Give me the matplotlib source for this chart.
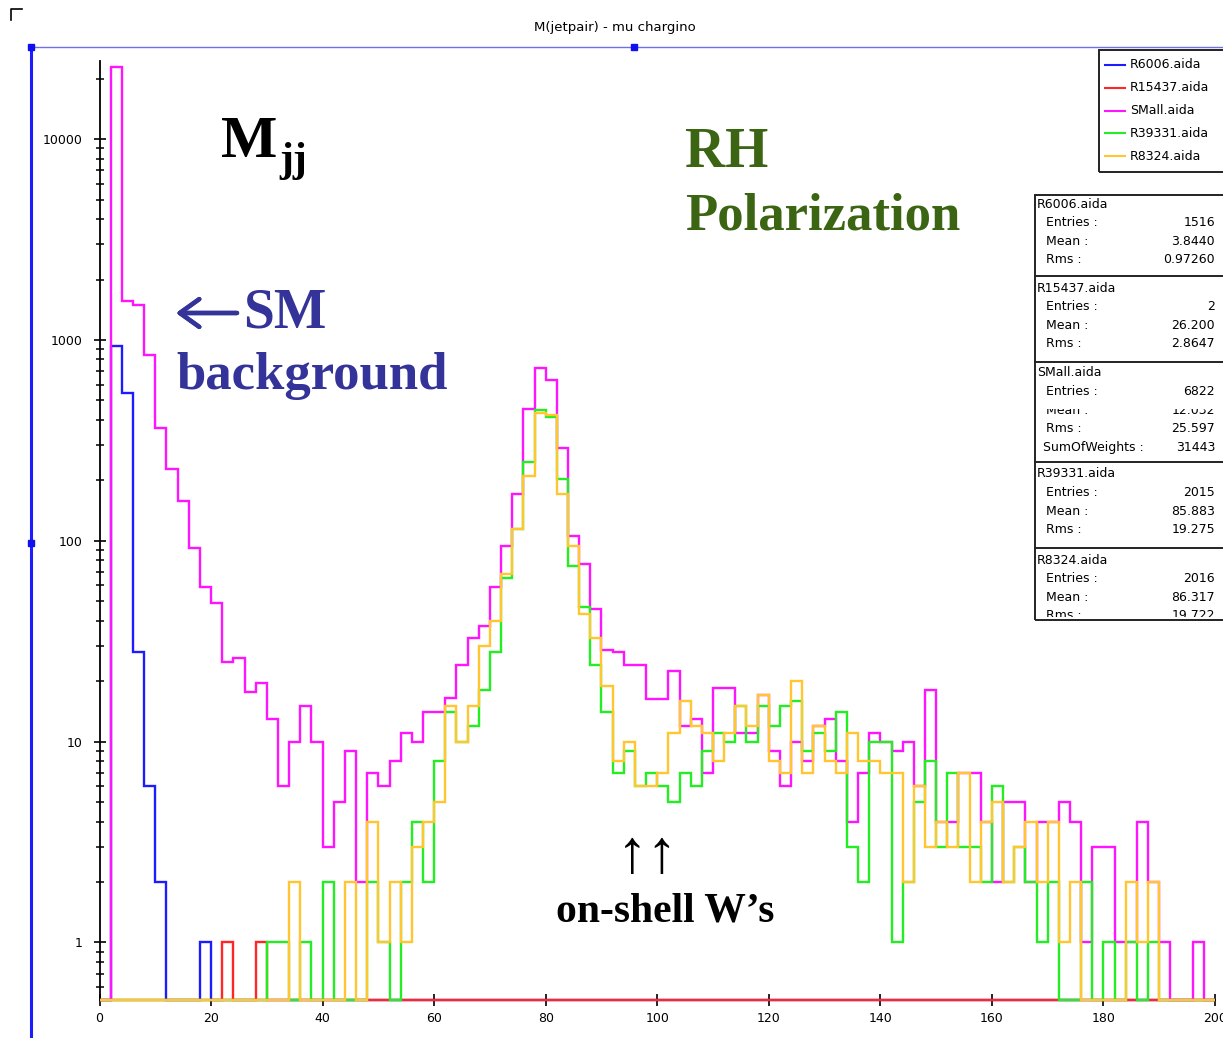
import numpy as np
import matplotlib.pyplot as plt
from matplotlib.lines import Line2D
from matplotlib.patches import Rectangle
from matplotlib.ticker import FixedLocator, LogLocator, NullFormatter, FuncFormatter
from matplotlib.transforms import Bbox

W, H = 1223, 1038


def fx(x):
    return x / W


def fy(y):
    return 1 - y / H


# 2 GeV bins from 0 to 200
edges = np.arange(0, 202, 2)

r6006 = [0, 935, 545, 28, 6, 2, 0, 0, 0, 1,
         0, 0, 0, 0, 0, 0, 0, 0, 0, 0,
         0, 0, 0, 0, 0, 0, 0, 0, 0, 0,
         0, 0, 0, 0, 0, 0, 0, 0, 0, 0,
         0, 0, 0, 0, 0, 0, 0, 0, 0, 0,
         0, 0, 0, 0, 0, 0, 0, 0, 0, 0,
         0, 0, 0, 0, 0, 0, 0, 0, 0, 0,
         0, 0, 0, 0, 0, 0, 0, 0, 0, 0,
         0, 0, 0, 0, 0, 0, 0, 0, 0, 0,
         0, 0, 0, 0, 0, 0, 0, 0, 0, 0]

r15437 = [0, 0, 0, 0, 0, 0, 0, 0, 0, 0,
          0, 1, 0, 0, 1, 0, 0, 0, 0, 0,
          0, 0, 0, 0, 0, 0, 0, 0, 0, 0,
          0, 0, 0, 0, 0, 0, 0, 0, 0, 0,
          0, 0, 0, 0, 0, 0, 0, 0, 0, 0,
          0, 0, 0, 0, 0, 0, 0, 0, 0, 0,
          0, 0, 0, 0, 0, 0, 0, 0, 0, 0,
          0, 0, 0, 0, 0, 0, 0, 0, 0, 0,
          0, 0, 0, 0, 0, 0, 0, 0, 0, 0,
          0, 0, 0, 0, 0, 0, 0, 0, 0, 0]

small = [0, 23000, 1560, 1500, 845, 364, 228, 158, 92, 59,
         49, 25, 26, 17.6, 19.6, 13, 6, 10, 15, 10,
         3, 5, 9, 2, 7, 6, 8, 11, 10, 14,
         14, 16.5, 24, 33, 37.6, 59, 94, 172, 455, 729,
         630, 290, 106, 77, 46, 28.7, 28, 24, 24, 16.3,
         16.3, 22.5, 12, 13, 7, 18.4, 18.4, 11, 11, 17,
         9, 6, 10, 8, 12, 13, 8, 4, 7, 11,
         10, 9, 10, 6, 18, 4, 4, 7, 7, 4,
         2, 5, 5, 2, 4, 4, 5, 4, 1, 3,
         3, 1, 1, 4, 2, 1, 0, 0, 1, 0]

r39331 = [0, 0, 0, 0, 0, 0, 0, 0, 0, 0,
          0, 0, 0, 0, 0, 1, 1, 0, 1, 0,
          2, 0, 0, 0, 2, 1, 0, 2, 4, 2,
          8, 14, 10, 12, 18, 28, 65, 115, 248, 448,
          415, 202, 75, 47, 24, 14, 7, 9, 6, 7,
          6, 5, 7, 6, 9, 11, 10, 15, 10, 15,
          12, 15, 16, 9, 11, 9, 14, 3, 2, 10,
          10, 1, 2, 5, 8, 3, 7, 3, 3, 2,
          6, 2, 3, 2, 1, 2, 0, 0, 2, 0,
          1, 0, 1, 0, 1, 0, 0, 0, 0, 0]

r8324 = [0, 0, 0, 0, 0, 0, 0, 0, 0, 0,
         0, 0, 0, 0, 0, 0, 0, 2, 0, 0,
         0, 0, 2, 0, 4, 1, 2, 1, 3, 4,
         5, 15, 10, 15, 30, 40, 68, 115, 211, 431,
         422, 172, 94, 43, 33, 19, 8, 10, 6, 6,
         7, 11, 16, 12, 11, 8, 11, 15, 12, 17,
         8, 7, 20, 7, 12, 8, 7, 11, 8, 8,
         7, 7, 2, 6, 3, 4, 3, 7, 2, 4,
         5, 2, 3, 4, 2, 4, 1, 2, 0, 0,
         0, 0, 2, 1, 2, 0, 0, 0, 0, 0]

names = ['R6006.aida', 'R15437.aida', 'SMall.aida', 'R39331.aida', 'R8324.aida']
colors = ['#1c1cff', '#ff2626', '#ff14ff', '#22ee22', '#ffc630']
hists = [r6006, r15437, small, r39331, r8324]

# per-histogram statistics as printed by the plotter
stats = [
    ('R6006.aida', [('Entries :', '1516'), ('Mean :', '3.8440'), ('Rms :', '0.97260')]),
    ('R15437.aida', [('Entries :', '2'), ('Mean :', '26.200'), ('Rms :', '2.8647')]),
    ('SMall.aida', [('Entries :', '6822'), ('Mean :', '12.032'), ('Rms :', '25.597'),
                    ('SumOfWeights :', '31443')]),
    ('R39331.aida', [('Entries :', '2015'), ('Mean :', '85.883'), ('Rms :', '19.275')]),
    ('R8324.aida', [('Entries :', '2016'), ('Mean :', '86.317'), ('Rms :', '19.722')]),
]

fig = plt.figure(figsize=(W / 100, H / 100), dpi=100)
ax = fig.add_axes([fx(99.5), fy(1000), fx(1215) - fx(99.5), fy(61) - fy(1000)])

ymin, ymax = 0.517, 24500
for vals, col in zip(hists, colors):
    v = np.array(vals, dtype=float)
    v[v <= 0] = ymin  # empty bins sit on the x axis
    ax.stairs(v, edges, baseline=None, edgecolor=col, lw=1.7, zorder=3, clip_on=False)

ax.set_yscale('log')
ax.set_ylim(ymin, ymax)
ax.set_xlim(0, 200)
for s in ['top', 'right']:
    ax.spines[s].set_visible(False)
for s in ['left', 'bottom']:
    ax.spines[s].set_linewidth(1.3)
    ax.spines[s].set_zorder(1)

ax.yaxis.set_major_locator(FixedLocator([1, 10, 100, 1000, 10000]))
ax.yaxis.set_major_formatter(FuncFormatter(lambda v, p: f'{v:g}'))
ax.yaxis.set_minor_locator(LogLocator(base=10, subs=np.arange(2, 10), numticks=20))
ax.yaxis.set_minor_formatter(NullFormatter())
ax.set_xticks(np.arange(0, 201, 20))

ax.tick_params(axis='both', which='major', direction='inout', length=8, width=1.2,
               labelsize=9, pad=5)
ax.tick_params(axis='y', which='major', pad=8)
ax.tick_params(axis='y', which='minor', direction='inout', length=6, width=1.1)

# page frame and title
fig.text(fx(615), fy(28), 'M(jetpair) - mu chargino', ha='center', va='center', fontsize=9.5)
fig.add_artist(Line2D([fx(31), fx(1223)], [fy(47), fy(47)], color='#7070e8', lw=1.0))
fig.add_artist(Line2D([fx(31), fx(31)], [fy(47), fy(1038)], color='#1c1cff', lw=2.2))
for px, py in [(31, 47), (31, 543), (634, 47)]:
    fig.add_artist(Line2D([fx(px)], [fy(py)], marker='s', ms=4, color='#1010ee', lw=0))
fig.add_artist(Line2D([fx(11), fx(11), fx(22)], [fy(20), fy(9), fy(9)], color='black', lw=1.2))

# legend box
fig.add_artist(Rectangle((fx(1099), fy(172)), fx(1226) - fx(1099), fy(50) - fy(172),
                         fill=False, ec='#222222', lw=1.4, transform=fig.transFigure))
for i, (name, col) in enumerate(zip(names, colors)):
    yy = 65 + i * 22.8
    fig.add_artist(Line2D([fx(1105), fx(1125)], [fy(yy), fy(yy)], color=col, lw=1.5))
    fig.text(fx(1130), fy(yy), name, fontsize=9, va='center', ha='left')

# statistics box
box_top, box_bot = 195, 620
fig.add_artist(Rectangle((fx(1035), fy(box_bot)), fx(1226) - fx(1035), fy(box_top) - fy(box_bot),
                         fill=False, ec='#222222', lw=1.4, transform=fig.transFigure))
row_h = 18.6
sep_rows = [276, 362, 462, 548]
heads = [204, 288, 373, 474, 560]
for sy in sep_rows:
    fig.add_artist(Line2D([fx(1035), fx(1226)], [fy(sy), fy(sy)], color='#222222', lw=1.4))
for (head, rows), hy in zip(stats, heads):
    fig.text(fx(1037), fy(hy), head, fontsize=9, va='center', ha='left')
    for j, (lab, val) in enumerate(rows):
        ry = hy + (j + 1) * row_h
        lx = 1043 if lab.startswith('SumOf') else 1046
        t1 = fig.text(fx(lx), fy(ry), lab, fontsize=9, va='center', ha='left')
        t2 = fig.text(fx(1215), fy(ry), val, fontsize=9, va='center', ha='right')
        if head == 'SMall.aida' and lab == 'Mean :':
            # upper half of this row is hidden in the panel
            for t in (t1, t2):
                t.set_clip_box(Bbox.from_extents(1030, 0, W, H - 409))
                t.set_clip_on(True)
        if head == 'R8324.aida' and lab == 'Rms :':
            for t in (t1, t2):
                t.set_clip_box(Bbox.from_extents(1030, H - 617, W, H))
                t.set_clip_on(True)

# annotations
serif = ['Liberation Serif', 'DejaVu Serif']
fig.text(fx(221), fy(157), 'M', fontsize=43, fontweight='bold', family=serif, va='baseline')
fig.text(fx(279), fy(171), 'jj', fontsize=30, fontweight='bold', family=serif, va='baseline')
fig.text(fx(685), fy(167), 'RH', fontsize=40, fontweight='bold', family=serif,
         va='baseline', color='#3b6512')
fig.text(fx(685), fy(230), 'Polarization', fontsize=38, fontweight='bold', family=serif,
         va='baseline', color='#3b6512')
fig.add_artist(ax.annotate('', xy=(fx(176), fy(313)), xytext=(fx(237), fy(313)),
                           xycoords='figure fraction', textcoords='figure fraction',
                           arrowprops=dict(arrowstyle='->,head_length=0.7,head_width=0.5',
                                           lw=3.2, color='#333399', mutation_scale=20,
                                           shrinkA=0, shrinkB=0)))
fig.text(fx(243), fy(327), 'SM', fontsize=40, fontweight='bold', family=serif,
         va='baseline', color='#333399')
fig.text(fx(176), fy(389), 'background', fontsize=38, fontweight='bold', family=serif,
         va='baseline', color='#333399')
fig.text(fx(617), fy(872), '\u2191\u2191', fontsize=44, family=serif, va='baseline')
fig.text(fx(556), fy(922), 'on-shell W\u2019s', fontsize=30, fontweight='bold', family=serif,
         va='baseline')

fig.savefig('out.png', dpi=100)
